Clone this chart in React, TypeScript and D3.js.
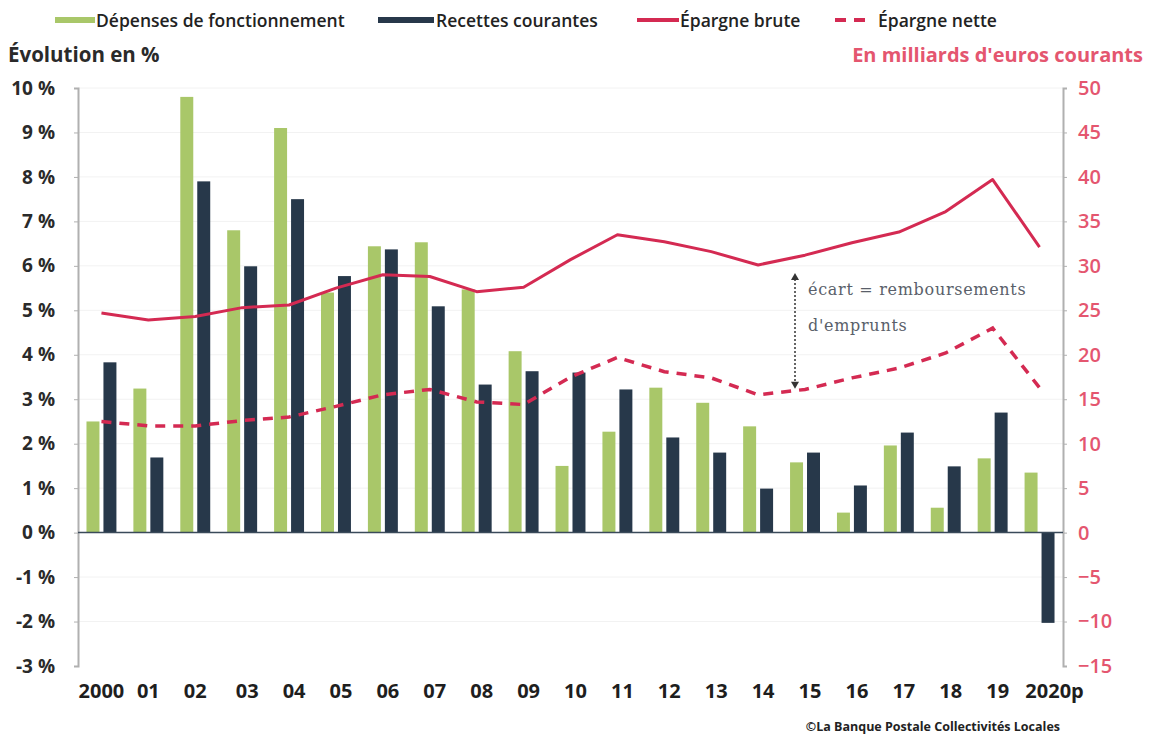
import React, { useEffect, useRef } from "react";
import * as d3 from "d3";

const years = ["2000", "01", "02", "03", "04", "05", "06", "07", "08", "09", "10",
  "11", "12", "13", "14", "15", "16", "17", "18", "19", "2020p"];

// évolution en %
const depenses = [2.5, 3.24, 9.8, 6.8, 9.1, 5.4, 6.44, 6.53, 5.47, 4.08, 1.5,
  2.27, 3.26, 2.92, 2.39, 1.58, 0.45, 1.96, 0.56, 1.67, 1.35];
const recettes = [3.83, 1.69, 7.9, 5.99, 7.5, 5.77, 6.37, 5.09, 3.33, 3.63, 3.6,
  3.22, 2.14, 1.8, 0.99, 1.8, 1.06, 2.25, 1.49, 2.7, -2.03];

// milliards d'euros courants
const epargneBrute = [24.7, 23.9, 24.3, 25.3, 25.6, 27.5, 29.0, 28.8, 27.1, 27.6, 30.7,
  33.5, 32.7, 31.6, 30.1, 31.2, 32.6, 33.8, 36.1, 39.7, 32.1];
const epargneNette = [12.5, 12.0, 12.0, 12.6, 13.0, 14.2, 15.5, 16.1, 14.7, 14.4, 17.5,
  19.7, 18.1, 17.4, 15.5, 16.1, 17.4, 18.5, 20.2, 23.0, 16.3];

const leftTicks = [-3, -2, -1, 0, 1, 2, 3, 4, 5, 6, 7, 8, 9, 10];
const rightTicks = [-15, -10, -5, 0, 5, 10, 15, 20, 25, 30, 35, 40, 45, 50];

const GREEN = "#a9c769";
const DARK = "#27384a";
const RED = "#d42a52";
const PINK = "#e4566f";
const FONT = "'Open Sans', sans-serif";

export default function App() {
  const ref = useRef<SVGSVGElement>(null);

  useEffect(() => {
    const svg = d3.select(ref.current);
    svg.selectAll("*").remove();

    const left = 78, right = 1063, top = 88, bottom = 666;

    const x = d3.scaleBand().domain(years).range([left, right]);
    const x1 = d3.scaleBand().domain(["dep", "rec"]).range([0, x.bandwidth()])
      .paddingInner(0.235).paddingOuter(0.5);
    const yL = d3.scaleLinear().domain([-3, 10]).range([bottom, top]);
    const yR = d3.scaleLinear().domain([-15, 50]).range([bottom, top]);
    const cx = (i: number) => (x(years[i]) as number) + x.bandwidth() / 2;

    // faint gridlines
    svg.append("g").selectAll("line").data(leftTicks.filter(t => t !== 0 && t !== -3)).enter()
      .append("line")
      .attr("x1", left).attr("x2", right)
      .attr("y1", d => yL(d)).attr("y2", d => yL(d))
      .attr("stroke", "#f2f2f2").attr("stroke-width", 1);

    // left axis
    const gL = svg.append("g").attr("transform", `translate(${left},0)`)
      .call(d3.axisLeft(yL).tickValues(leftTicks).tickSize(4).tickFormat(d => `${d} %`));
    gL.select(".domain").attr("stroke", "#b0b0b0").attr("stroke-width", 2);
    gL.selectAll(".tick line").attr("stroke", "#b0b0b0");
    gL.selectAll(".tick text")
      .attr("x", -23)
      .attr("fill", "#2a2a2a").attr("font-family", FONT).attr("font-weight", 700)
      .attr("font-size", 19);

    // right axis
    const gR = svg.append("g").attr("transform", `translate(${right},0)`)
      .call(d3.axisRight(yR).tickValues(rightTicks).tickSize(4));
    gR.select(".domain").attr("stroke", "#b0b0b0").attr("stroke-width", 2);
    gR.selectAll(".tick line").attr("stroke", "#b0b0b0");
    gR.selectAll(".tick text")
      .attr("x", 15)
      .attr("fill", PINK).attr("font-family", FONT).attr("font-weight", 600)
      .attr("font-size", 20);

    // bars
    const bars = svg.append("g");
    bars.selectAll("rect.dep").data(depenses).enter().append("rect")
      .attr("class", "dep")
      .attr("x", (d, i) => (x(years[i]) as number) + (x1("dep") as number))
      .attr("width", x1.bandwidth())
      .attr("y", d => yL(Math.max(0, d)))
      .attr("height", d => Math.abs(yL(d) - yL(0)))
      .attr("fill", GREEN);
    bars.selectAll("rect.rec").data(recettes).enter().append("rect")
      .attr("class", "rec")
      .attr("x", (d, i) => (x(years[i]) as number) + (x1("rec") as number))
      .attr("width", x1.bandwidth())
      .attr("y", d => yL(Math.max(0, d)))
      .attr("height", d => Math.abs(yL(d) - yL(0)))
      .attr("fill", DARK);

    // zero line
    svg.append("line")
      .attr("x1", left).attr("x2", right)
      .attr("y1", yL(0)).attr("y2", yL(0))
      .attr("stroke", "#3a4a5a").attr("stroke-width", 1.5);

    // x labels
    svg.append("g").selectAll("text").data(years).enter().append("text")
      .attr("x", (d, i) => cx(i) + (i === 20 ? 15 : i < 3 ? 0 : 5))
      .attr("y", 698)
      .attr("text-anchor", "middle")
      .attr("fill", "#1e1e1e").attr("font-family", FONT).attr("font-weight", 700)
      .attr("font-size", 20)
      .text(d => d);

    // lines
    const ln = d3.line<number>().x((d, i) => cx(i)).y(d => yR(d));
    svg.append("path").datum(epargneBrute)
      .attr("d", ln).attr("fill", "none")
      .attr("stroke", RED).attr("stroke-width", 3).attr("stroke-linejoin", "round");
    svg.append("path").datum(epargneNette)
      .attr("d", ln).attr("fill", "none")
      .attr("stroke", RED).attr("stroke-width", 3.5)
      .attr("stroke-dasharray", "10,8");

    // annotation arrow
    const ax = 795;
    const ay1 = yR(epargneBrute[14]) + 8, ay2 = yR(epargneNette[14]) - 6;
    svg.append("line")
      .attr("x1", ax).attr("x2", ax).attr("y1", ay1 + 6).attr("y2", ay2 - 6)
      .attr("stroke", "#333").attr("stroke-width", 1.5).attr("stroke-dasharray", "2,2");
    svg.append("path")
      .attr("d", `M${ax - 4},${ay1 + 7} L${ax},${ay1} L${ax + 4},${ay1 + 7} Z`)
      .attr("fill", "#333");
    svg.append("path")
      .attr("d", `M${ax - 4},${ay2 - 7} L${ax},${ay2} L${ax + 4},${ay2 - 7} Z`)
      .attr("fill", "#333");
    const ann = svg.append("g").attr("font-family", "'DejaVu Serif', serif")
      .attr("font-size", 16).attr("fill", "#5a5f6a").attr("letter-spacing", 0.7);
    ann.append("text").attr("x", 808).attr("y", 295).text("écart = remboursements");
    ann.append("text").attr("x", 808).attr("y", 331).text("d'emprunts");

    // titles
    svg.append("text").attr("x", 8).attr("y", 62)
      .attr("fill", "#2a2a2a").attr("font-family", FONT).attr("font-weight", 700)
      .attr("font-size", 20.5).text("Évolution en %");
    svg.append("text").attr("x", 1143).attr("y", 62).attr("text-anchor", "end")
      .attr("fill", PINK).attr("font-family", FONT).attr("font-weight", 700)
      .attr("font-size", 20).text("En milliards d'euros courants");

    // legend
    const lg = svg.append("g").attr("font-family", FONT).attr("font-size", 17.5)
      .attr("font-weight", 600).attr("fill", "#222");
    lg.append("rect").attr("x", 55).attr("y", 17).attr("width", 40).attr("height", 6).attr("fill", GREEN);
    lg.append("text").attr("x", 96).attr("y", 27).text("Dépenses de fonctionnement");
    lg.append("rect").attr("x", 378).attr("y", 17).attr("width", 56).attr("height", 6).attr("fill", DARK);
    lg.append("text").attr("x", 436).attr("y", 27).text("Recettes courantes");
    lg.append("line").attr("x1", 637).attr("x2", 679).attr("y1", 20).attr("y2", 20)
      .attr("stroke", RED).attr("stroke-width", 4);
    lg.append("text").attr("x", 680).attr("y", 27).text("Épargne brute");
    lg.append("line").attr("x1", 835).attr("x2", 866).attr("y1", 20).attr("y2", 20)
      .attr("stroke", RED).attr("stroke-width", 4).attr("stroke-dasharray", "11,8");
    lg.append("text").attr("x", 878).attr("y", 27).text("Épargne nette");

    // source
    svg.append("text").attr("x", 1060).attr("y", 731).attr("text-anchor", "end")
      .attr("fill", "#222").attr("font-family", FONT).attr("font-weight", 700)
      .attr("font-size", 12.5).text("©La Banque Postale Collectivités Locales");
  }, []);

  return (
    <svg ref={ref} width={1152} height={736}
      style={{ position: "absolute", left: 0, top: 0, background: "#fff" }} />
  );
}
